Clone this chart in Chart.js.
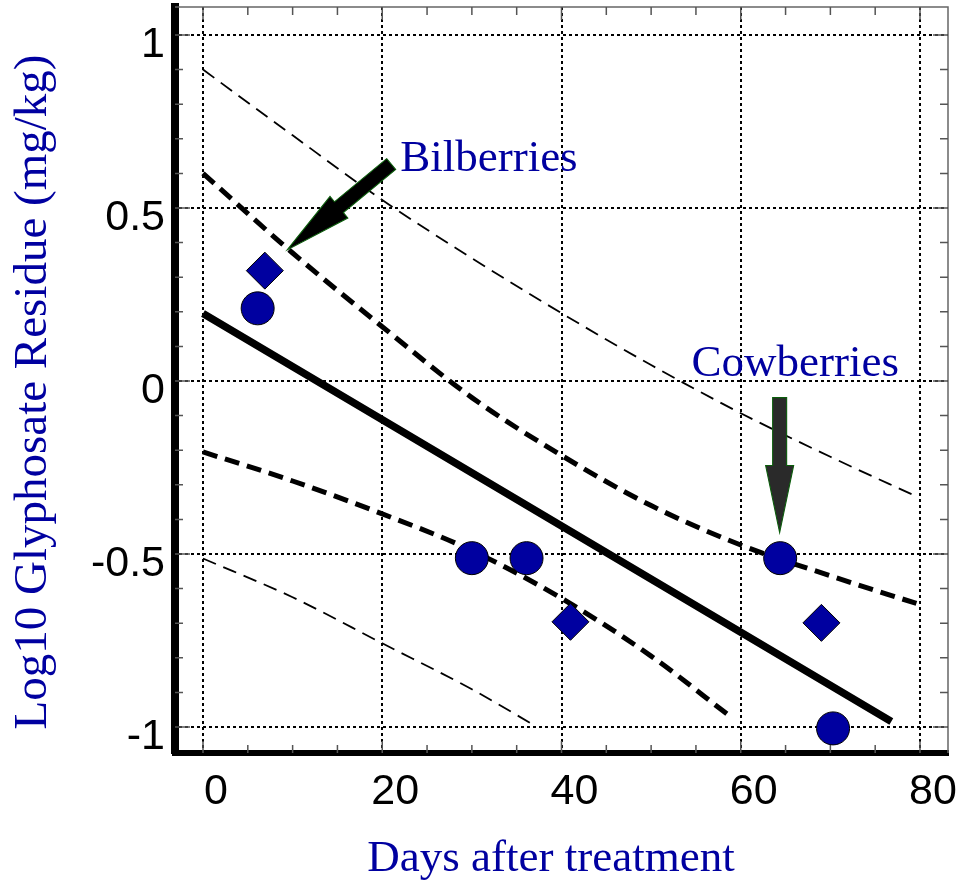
<!DOCTYPE html>
<html><head><meta charset="utf-8">
<script src="https://cdn.jsdelivr.net/npm/chart.js@4/dist/chart.umd.min.js"></script>
<style>html,body{margin:0;padding:0;background:#fff;overflow:hidden}#wrap{width:967px;height:886px;position:relative}</style>
</head><body><div id="wrap"><canvas id="c" width="967" height="886"></canvas></div>
<script>
// ---- axis ticks / labels ----
const xTicks = [0, 20, 40, 60, 80];
const xTickLabels = ['0', '20', '40', '60', '80'];
const yTicks = [-1, -0.5, 0, 0.5, 1];
const yTickLabels = ['-1', '-0.5', '0', '0.5', '1'];
const xTitle = 'Days after treatment';
const yTitle = 'Log10 Glyphosate Residue (mg/kg)';

// ---- observed residues ----
const circleDays = [6.1, 30.0, 36.1, 64.4, 70.3];
const circleLog  = [0.21, -0.512, -0.512, -0.512, -1.004];
const diamondDays = [6.9, 41.0, 69.0];
const diamondLog  = [0.319, -0.696, -0.699];

// ---- regression line ----
const fitDays = [0, 76.8];
const fitLog  = [0.195, -0.984];

// ---- inner band (thick dashes) ----
const ciUpperDays = [0, 10, 20, 30, 40, 50, 60, 70, 79.6];
const ciUpperLog  = [0.60, 0.37, 0.157, -0.048, -0.215, -0.36, -0.474, -0.563, -0.643];
const ciLowerDays = [0, 10, 20, 30, 40, 50, 58.6];
const ciLowerLog  = [-0.205, -0.289, -0.384, -0.49, -0.628, -0.795, -0.965];

// ---- outer band (thin dashes) ----
const piUpperDays = [0, 10, 20, 30, 40, 50, 60, 70, 79.8];
const piUpperLog  = [0.90, 0.71, 0.523, 0.355, 0.196, 0.046, -0.093, -0.219, -0.336];
const piLowerDays = [0, 10, 20, 30, 36.7];
const piLowerLog  = [-0.513, -0.625, -0.758, -0.891, -0.991];

// ---- annotations ----
const labelNames = ['Bilberries', 'Cowberries'];
const labelDays  = [22.0, 54.5];
const labelLog   = [0.607, 0.0145];
const arrowTailDays = [21.0, 64.34];
const arrowTailLog  = [0.627, -0.048];
const arrowTipDays  = [9.4, 64.34];
const arrowTipLog   = [0.379, -0.438];

const BLUE = '#0000A0';
const toXY = (xs, ys) => xs.map((x, i) => ({x: x, y: ys[i]}));

function lineDs(label, xs, ys, width, dash) {
  return {label: label, data: toXY(xs, ys), showLine: true, pointRadius: 0, pointHoverRadius: 0,
    borderColor: '#000', backgroundColor: '#000', borderWidth: width, borderDash: dash,
    borderCapStyle: 'butt', fill: false, cubicInterpolationMode: 'monotone', order: 5};
}

const framePlugin = {
  id: 'frame',
  beforeDatasetsDraw(chart) {
    const {ctx, chartArea: a, scales: {x, y}} = chart;
    ctx.save();
    ctx.strokeStyle = '#666';
    ctx.lineWidth = 1.5;
    ctx.beginPath();
    ctx.moveTo(a.left, a.top); ctx.lineTo(a.right, a.top); ctx.lineTo(a.right, a.bottom);
    ctx.stroke();
    ctx.strokeStyle = '#555';
    ctx.beginPath();
    for (let v = 0; v <= 80; v += 5) {
      const px = x.getPixelForValue(v);
      const major = v % 20 === 0;
      ctx.moveTo(px, a.top); ctx.lineTo(px, a.top + (major ? 13 : 8));
      ctx.moveTo(px, a.bottom); ctx.lineTo(px, a.bottom - (major ? 12 : 8));
    }
    for (let k = -10; k <= 10; k++) {
      const py = y.getPixelForValue(k / 10);
      const major = k % 5 === 0;
      ctx.moveTo(a.left, py); ctx.lineTo(a.left + (major ? 15 : 8), py);
      ctx.moveTo(a.right, py); ctx.lineTo(a.right - (major ? 15 : 8), py);
    }
    ctx.stroke();
    ctx.restore();
  },
  afterDatasetsDraw(chart) {
    const {ctx, scales: {x, y}} = chart;
    ctx.save();
    // arrows
    const fills = ['#000000', '#2a2a2a'];
    for (let i = 0; i < arrowTipDays.length; i++) {
      const tx = x.getPixelForValue(arrowTailDays[i]), ty = y.getPixelForValue(arrowTailLog[i]);
      const hx = x.getPixelForValue(arrowTipDays[i]), hy = y.getPixelForValue(arrowTipLog[i]);
      const dx = hx - tx, dy = hy - ty, L = Math.hypot(dx, dy);
      const ux = dx / L, uy = dy / L, nx = -uy, ny = ux;
      const sw = 7, hw = 14, hl = 67;
      const bx = hx - ux * hl, by = hy - uy * hl;
      ctx.beginPath();
      ctx.moveTo(tx + nx * sw, ty + ny * sw);
      ctx.lineTo(bx + nx * sw, by + ny * sw);
      ctx.lineTo(bx + nx * hw, by + ny * hw);
      ctx.lineTo(hx, hy);
      ctx.lineTo(bx - nx * hw, by - ny * hw);
      ctx.lineTo(bx - nx * sw, by - ny * sw);
      ctx.lineTo(tx - nx * sw, ty - ny * sw);
      ctx.closePath();
      ctx.fillStyle = fills[i];
      ctx.fill();
      ctx.strokeStyle = '#0b5d0b';
      ctx.lineWidth = 1.1;
      ctx.stroke();
    }
    // labels
    ctx.fillStyle = BLUE;
    ctx.font = '45px "Liberation Serif", "Times New Roman", serif';
    ctx.textAlign = 'left';
    ctx.textBaseline = 'alphabetic';
    for (let i = 0; i < labelNames.length; i++) {
      ctx.fillText(labelNames[i], x.getPixelForValue(labelDays[i]), y.getPixelForValue(labelLog[i]));
    }
    // axis titles
    ctx.textAlign = 'center';
    ctx.font = '45px "Liberation Serif", "Times New Roman", serif';
    ctx.fillText(xTitle, 551, 871);
    ctx.translate(46, 392);
    ctx.rotate(-Math.PI / 2);
    ctx.font = '47px "Liberation Serif", "Times New Roman", serif';
    ctx.fillText(yTitle, 0, 0);
    ctx.restore();
  }
};

new Chart(document.getElementById('c'), {
  type: 'scatter',
  data: {
    datasets: [
      {label: 'Circles', data: toXY(circleDays, circleLog), pointStyle: 'circle', pointRadius: 16.5,
       pointHoverRadius: 16.5, backgroundColor: BLUE, borderColor: '#000', borderWidth: 1, order: 0},
      {label: 'Diamonds', data: toXY(diamondDays, diamondLog), pointStyle: 'rectRot', pointRadius: 18.5,
       pointHoverRadius: 18.5, backgroundColor: BLUE, borderColor: '#000', borderWidth: 1, order: 0},
      lineDs('Regression', fitDays, fitLog, 7.5, []),
      lineDs('Inner upper', ciUpperDays, ciUpperLog, 5, [15, 8]),
      lineDs('Inner lower', ciLowerDays, ciLowerLog, 5, [15, 8]),
      lineDs('Outer upper', piUpperDays, piUpperLog, 1.8, [14, 8]),
      lineDs('Outer lower', piLowerDays, piLowerLog, 1.8, [14, 8])
    ]
  },
  options: {
    responsive: false, animation: false, devicePixelRatio: 1,
    layout: {autoPadding: false, padding: {left: 0, right: 19, top: 7, bottom: 0}},
    plugins: {legend: {display: false}, tooltip: {enabled: false}},
    scales: {
      x: {
        type: 'linear', position: 'bottom', min: -3.124, max: 83.124,
        afterFit(s) { s.height = 133; s.paddingLeft = 0; s.paddingRight = 0; s.paddingTop = 0; s.paddingBottom = 0; },
        afterBuildTicks(s) { s.ticks = xTicks.map(v => ({value: v})); },
        ticks: {callback: v => xTickLabels[xTicks.indexOf(v)], font: {family: '"Liberation Sans", Arial, sans-serif', size: 43},
                color: '#000', padding: 13, labelOffset: 13, maxRotation: 0, autoSkip: false},
        grid: {color: '#000', lineWidth: 2, drawTicks: false},
        border: {display: true, color: '#000', width: 6, dash: [3, 3]}
      },
      y: {
        type: 'linear', position: 'left', min: -1.0751, max: 1.0809,
        afterFit(s) { s.width = 175; s.paddingLeft = 0; s.paddingRight = 0; s.paddingTop = 0; s.paddingBottom = 0; },
        afterBuildTicks(s) { s.ticks = yTicks.map(v => ({value: v})); },
        ticks: {callback: v => yTickLabels[yTicks.indexOf(v)], font: {family: '"Liberation Sans", Arial, sans-serif', size: 43},
                color: '#000', padding: 10, labelOffset: 10, autoSkip: false},
        grid: {color: '#000', lineWidth: 2, drawTicks: false},
        border: {display: true, color: '#000', width: 8, dash: [3, 3]}
      }
    }
  },
  plugins: [framePlugin]
});
</script>
</body></html>
